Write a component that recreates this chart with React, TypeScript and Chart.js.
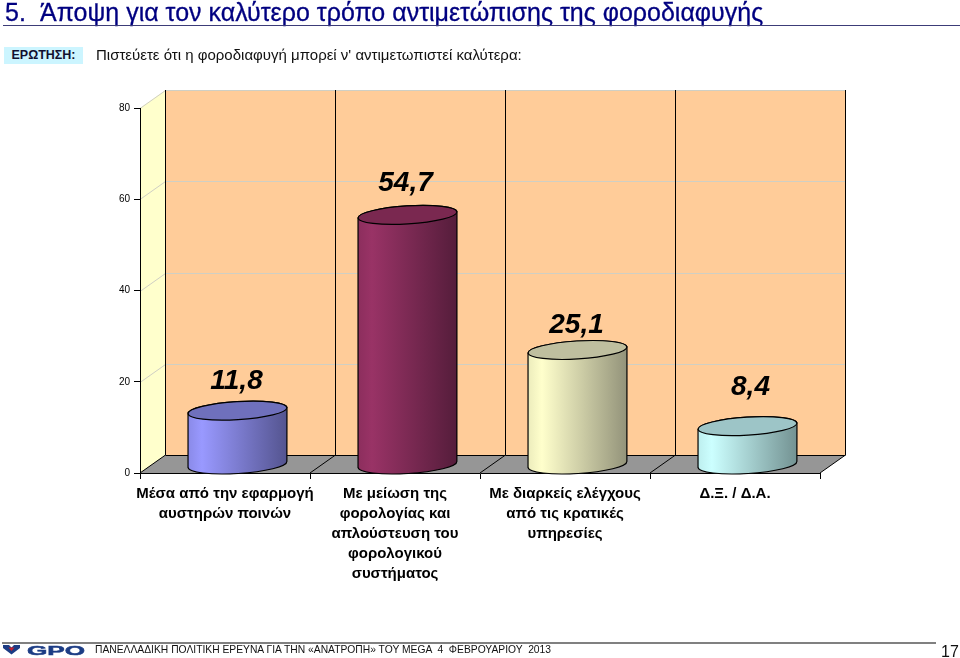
import React, { useEffect, useRef } from "react";
import { Chart, registerables } from "chart.js";

Chart.register(...registerables);

const categories = [
  ["Μέσα από την εφαρμογή", "αυστηρών ποινών"],
  ["Με μείωση της", "φορολογίας και", "απλούστευση του", "φορολογικού", "συστήματος"],
  ["Με διαρκείς ελέγχους", "από τις κρατικές", "υπηρεσίες"],
  ["Δ.Ξ. / Δ.Α."],
];
const values = [11.8, 54.7, 25.1, 8.4];
const valueLabels = ["11,8", "54,7", "25,1", "8,4"];
const yMax = 80;
const yStep = 20;

const barLight = ["#9999ff", "#993366", "#ffffcc", "#ccffff"];
const barEdge = ["#8a8ae8", "#8c2e5d", "#ecECbc", "#bdeeee"];
const barDark = ["#54548f", "#551d3b", "#93937a", "#739292"];
const capFill = ["#6f70bc", "#7a2850", "#bfbf9f", "#9dc5c7"];
const labelLift = [29, 32, 25, 39];
const labelNudge = [0, -1, 0, 4];

const FONT = '"Liberation Sans", Arial, sans-serif';
const DX = 25.5; // depth of the 3-D box
const DY = 18;
const SHIFT_X = 12.5; // bars stand in the middle of the floor
const SHIFT_Y = 8.5;
const RY = 9;
const TILT = (-3.5 * Math.PI) / 180;

function silhouette(ctx: CanvasRenderingContext2D, x: number, w: number, top: number, bot: number) {
  const rx = w / 2;
  const off = Math.sin(TILT) * rx;
  ctx.moveTo(x - rx, top - off);
  ctx.lineTo(x - rx, bot - off);
  ctx.ellipse(x, bot, rx, RY, TILT, Math.PI, 0, true);
  ctx.lineTo(x + rx, top + off);
  ctx.ellipse(x, top, rx, RY, TILT, 0, Math.PI, true);
  ctx.closePath();
}

function barGradient(chart: any, i: number) {
  const xs = chart.scales.x;
  if (!xs || !Number.isInteger(i)) return barLight[0];
  const half = (((xs.right - xs.left) / categories.length) * 0.582) / 2;
  const c = xs.getPixelForValue(i);
  if (!Number.isFinite(c) || !Number.isFinite(half)) return barLight[i];
  const g = chart.ctx.createLinearGradient(c - half, 0, c + half, 0);
  g.addColorStop(0, barEdge[i]);
  g.addColorStop(0.14, barLight[i]);
  g.addColorStop(1, barDark[i]);
  return g;
}

const boxPlugin = {
  id: "box3d",
  beforeDraw(chart: any) {
    const { ctx, scales } = chart;
    const { x: xs, y: ys } = scales;
    const l = xs.left, r = xs.right, t = ys.getPixelForValue(yMax), b = ys.getPixelForValue(0);
    ctx.save();
    // left wall
    ctx.fillStyle = "#ffffcc";
    ctx.beginPath();
    ctx.moveTo(l, b); ctx.lineTo(l, t); ctx.lineTo(l + DX, t - DY); ctx.lineTo(l + DX, b - DY); ctx.closePath();
    ctx.fill();
    // back wall
    ctx.fillStyle = "#ffcc99";
    ctx.fillRect(l + DX, t - DY, r - l, b - t);
    // grid lines
    ctx.strokeStyle = "#cfcfc4";
    ctx.lineWidth = 1;
    for (let v = yStep; v <= yMax; v += yStep) {
      const y = Math.round(ys.getPixelForValue(v)) + 0.5;
      ctx.beginPath();
      ctx.moveTo(l, y); ctx.lineTo(l + DX, y - DY); ctx.lineTo(r + DX, y - DY);
      ctx.stroke();
    }
    // floor
    ctx.fillStyle = "#969696";
    ctx.beginPath();
    ctx.moveTo(l, b); ctx.lineTo(r, b); ctx.lineTo(r + DX, b - DY); ctx.lineTo(l + DX, b - DY); ctx.closePath();
    ctx.fill();
    // divisions
    ctx.strokeStyle = "#000000";
    const n = categories.length;
    const cw = (r - l) / n;
    for (let i = 0; i <= n; i++) {
      const x = Math.round(l + i * cw);
      ctx.beginPath();
      ctx.moveTo(x, b); ctx.lineTo(x + DX, b - DY); ctx.lineTo(x + DX, t - DY);
      ctx.stroke();
    }
    ctx.beginPath();
    ctx.moveTo(l + DX, b - DY + 0.5); ctx.lineTo(r + DX, b - DY + 0.5);
    ctx.stroke();
    ctx.restore();
  },
  beforeDatasetDraw(chart: any, args: any) {
    const { ctx, scales } = chart;
    const meta = chart.getDatasetMeta(args.index);
    ctx.save();
    ctx.translate(SHIFT_X, -SHIFT_Y);
    const base = scales.y.getPixelForValue(0);
    meta.data.forEach((bar: any, i: number) => {
      ctx.beginPath();
      silhouette(ctx, bar.x, bar.width, bar.y, base);
      ctx.fillStyle = barGradient(chart, i);
      ctx.fill();
    });
    ctx.beginPath();
    meta.data.forEach((bar: any) => silhouette(ctx, bar.x, bar.width, bar.y, base));
    ctx.clip();
  },
  afterDatasetDraw(chart: any, args: any) {
    const { ctx, scales } = chart;
    const meta = chart.getDatasetMeta(args.index);
    ctx.restore();
    ctx.save();
    ctx.translate(SHIFT_X, -SHIFT_Y);
    const base = scales.y.getPixelForValue(0);
    meta.data.forEach((bar: any, i: number) => {
      ctx.strokeStyle = "#000000";
      ctx.lineWidth = 1.2;
      ctx.beginPath();
      silhouette(ctx, bar.x, bar.width, bar.y, base);
      ctx.stroke();
      ctx.beginPath();
      ctx.ellipse(bar.x, bar.y, bar.width / 2, RY, TILT, 0, Math.PI * 2);
      ctx.fillStyle = capFill[i];
      ctx.fill();
      ctx.stroke();
    });
    ctx.restore();
    // value labels
    ctx.save();
    ctx.fillStyle = "#000000";
    ctx.font = `italic bold 28px ${FONT}`;
    ctx.textAlign = "center";
    ctx.textBaseline = "middle";
    meta.data.forEach((bar: any, i: number) => {
      const tx = bar.x + SHIFT_X - 1 + labelNudge[i];
      const ty = bar.y - SHIFT_Y - labelLift[i];
      ctx.fillText(valueLabels[i], tx, ty);
    });
    ctx.restore();
  },
};

export default function App() {
  const ref = useRef<HTMLCanvasElement>(null);

  useEffect(() => {
    const chart = new Chart(ref.current as HTMLCanvasElement, {
      type: "bar",
      data: {
        labels: categories as any,
        datasets: [
          {
            data: values,
            backgroundColor: (c: any) => barGradient(c.chart, c.dataIndex),
            borderWidth: 0,
            categoryPercentage: 1,
            barPercentage: 0.582,
          },
        ],
      },
      options: {
        responsive: false,
        devicePixelRatio: 1,
        animation: false,
        layout: { padding: { top: 108, right: 140, left: 0, bottom: 0 } },
        plugins: { legend: { display: false }, tooltip: { enabled: false }, title: { display: false } },
        scales: {
          x: {
            grid: { offset: true, drawOnChartArea: false, color: "#000000", tickLength: 6 },
            border: { color: "#000000" },
            ticks: {
              autoSkip: false,
              maxRotation: 0,
              minRotation: 0,
              color: "#000000",
              padding: 5,
              font: { family: FONT, size: 15, weight: "bold", lineHeight: 20 / 15 },
            },
            afterFit: (s: any) => { s.height = 185; },
          },
          y: {
            min: 0,
            max: yMax,
            grid: { drawOnChartArea: false, color: "#000000", tickLength: 6 },
            border: { color: "#000000" },
            ticks: {
              stepSize: yStep,
              color: "#000000",
              padding: 4,
              font: { family: FONT, size: 10 },
            },
            afterFit: (s: any) => { s.width = 140; },
          },
        },
      },
      plugins: [boxPlugin],
    } as any);
    return () => chart.destroy();
  }, []);

  const abs = (o: React.CSSProperties): React.CSSProperties => ({ position: "absolute", whiteSpace: "pre", ...o });

  return (
    <div style={{ position: "absolute", left: 0, top: 0, width: 960, height: 658, overflow: "hidden", background: "#fff", fontFamily: FONT }}>
      <canvas ref={ref} width={960} height={658} style={{ position: "absolute", left: 0, top: 0, display: "block" }} />
      <div style={abs({ left: 5, top: -1, fontSize: 25, lineHeight: "26px", color: "#000080", fontWeight: 400, WebkitTextStroke: "0.3px #000080" })}>5.</div>
      <div style={abs({ left: 40, top: -1, fontSize: 25, lineHeight: "26px", color: "#000080", fontWeight: 400, WebkitTextStroke: "0.3px #000080" })}>
        Άποψη για τον καλύτερο τρόπο αντιμετώπισης της φοροδιαφυγής
      </div>
      <div style={abs({ left: 3, top: 25, width: 957, height: 1, background: "#3c3c78" })} />
      <div style={abs({ left: 4, top: 47, width: 79, height: 17, background: "#ccf5ff", textAlign: "center", fontSize: 12.5, lineHeight: "17px", fontWeight: 700, color: "#101030" })}>ΕΡΩΤΗΣΗ:</div>
      <div style={abs({ left: 96, top: 46, fontSize: 15, lineHeight: "18px", color: "#111" })}>Πιστεύετε ότι η φοροδιαφυγή μπορεί ν' αντιμετωπιστεί καλύτερα:</div>
      <div style={abs({ left: 2, top: 642, width: 934, height: 2, background: "#808080" })} />
      <svg style={abs({ left: 0, top: 644, width: 92, height: 12 })} viewBox="0 0 92 12">
        <path d="M3 1 L9 1 L11.5 3.5 L14 1 L20 1 L20 4 L11.5 10.5 L3 4 Z" fill="#1c3c84" />
        <path d="M8.5 3.5 L14.5 3.5 L11.5 7 Z" fill="#c8202c" />
        <text x="27" y="10.5" fontFamily={FONT} fontWeight="700" fontSize="13" fill="#1c3c84" stroke="#1c3c84" strokeWidth="0.5" textLength="58" lengthAdjust="spacingAndGlyphs">GPO</text>
      </svg>
      <div style={abs({ left: 95, top: 643, fontSize: 10.3, lineHeight: "14px", color: "#111" })}>ΠΑΝΕΛΛΑΔΙΚΗ ΠΟΛΙΤΙΚΗ ΕΡΕΥΝΑ ΓΙΑ ΤΗΝ «ΑΝΑΤΡΟΠΗ» ΤΟΥ MEGA  4  ΦΕΒΡΟΥΑΡΙΟΥ  2013</div>
      <div style={abs({ left: 941, top: 643, fontSize: 16, lineHeight: "18px", color: "#111" })}>17</div>
    </div>
  );
}
